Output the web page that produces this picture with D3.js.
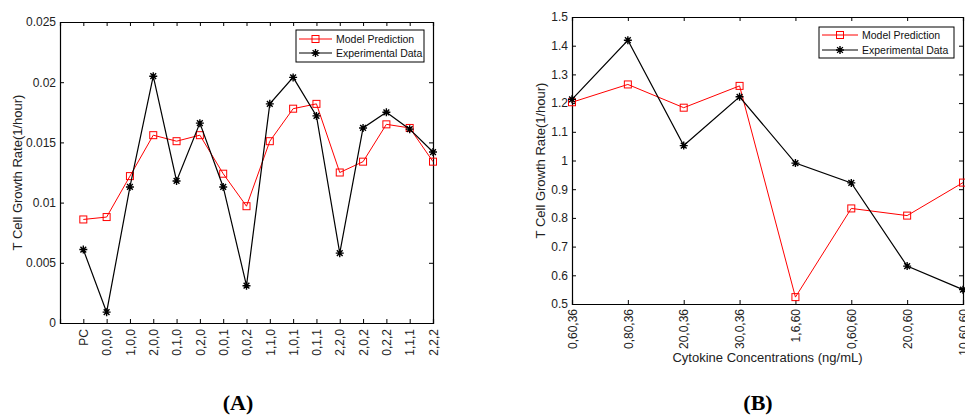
<!DOCTYPE html>
<html>
<head>
<meta charset="utf-8">
<script src="https://cdn.jsdelivr.net/npm/d3@7"></script>
<style>
  body { margin: 0; background: #fff; }
  svg { font-family: "Liberation Sans", Arial, sans-serif; }
  .domain { stroke: #000; stroke-width: 1.2; }
  .tick line { stroke: #000; stroke-width: 1; }
</style>
</head>
<body>
<svg id="chart" width="965" height="415"></svg>
<script>
// panel A
const catsA = ["PC", "0,0,0", "1,0,0", "2,0,0", "0,1,0", "0,2,0", "0,0,1", "0,0,2",
  "1,1,0", "1,0,1", "0,1,1", "2,2,0", "2,0,2", "0,2,2", "1,1,1", "2,2,2"];
const modelA = [0.0086, 0.0088, 0.0122, 0.0156, 0.0151, 0.0156, 0.0124, 0.0097,
  0.0151, 0.0178, 0.0182, 0.0125, 0.0134, 0.0165, 0.0162, 0.0134];
const exptA = [0.0061, 0.0009, 0.0113, 0.0205, 0.0118, 0.0166, 0.0113, 0.0031,
  0.0182, 0.0204, 0.0172, 0.0058, 0.0162, 0.0175, 0.0161, 0.0142];
const yTicksA = [0, 0.005, 0.01, 0.015, 0.02, 0.025];
const yLabelsA = ["0", "0.005", "0.01", "0.015", "0.02", "0.025"];

// panel B
const catsB = ["0,60,36", "0,80,36", "20,0,36", "30,0,36", "1,6,60", "0,60,60", "20,0,60", "10,60,60"];
const modelB = [1.203, 1.265, 1.184, 1.260, 0.524, 0.833, 0.808, 0.923];
const exptB = [1.213, 1.419, 1.052, 1.222, 0.991, 0.922, 0.632, 0.550];
const yTicksB = [0.5, 0.6, 0.7, 0.8, 0.9, 1, 1.1, 1.2, 1.3, 1.4, 1.5];
const yLabelsB = ["0.5", "0.6", "0.7", "0.8", "0.9", "1", "1.1", "1.2", "1.3", "1.4", "1.5"];

const seriesNames = ["Model Prediction", "Experimental Data"];
const colors = ["#ff0000", "#000000"];

const svg = d3.select("#chart");

function starPath(r) {
  const d = r * 0.72;
  return `M${-r},0L${r},0M0,${-r}L0,${r}M${-d},${-d}L${d},${d}M${-d},${d}L${d},${-d}`;
}

function drawMarker(g, kind, x, y, color) {
  if (kind === 0) {
    g.append("rect").attr("x", x - 3.5).attr("y", y - 3.5)
      .attr("width", 7).attr("height", 7)
      .attr("fill", "none").attr("stroke", color).attr("stroke-width", 1);
  } else {
    g.append("path").attr("transform", `translate(${x},${y})`)
      .attr("d", starPath(4)).attr("stroke", color).attr("stroke-width", 1.4).attr("fill", "none");
  }
}

function panel(opt) {
  const g = svg.append("g");
  const x = d3.scaleLinear().domain(opt.xDomain).range([opt.left, opt.right]);
  const y = d3.scaleLinear().domain(opt.yDomain).range([opt.bottom, opt.top]);
  const xIdx = opt.cats.map((c, i) => i + opt.offset);

  // axes
  const xa = g.append("g").attr("transform", `translate(0,${opt.bottom})`)
    .call(d3.axisBottom(x).tickValues(xIdx).tickSize(-4)
      .tickFormat((d, i) => opt.cats[i]));
  xa.selectAll("text")
    .attr("transform", "rotate(-90)")
    .attr("x", -opt.labelGap).attr("y", 0).attr("dy", "0.35em")
    .style("text-anchor", "end").style("font-size", "12px").attr("fill", "#222");

  g.append("g").attr("transform", `translate(0,${opt.top})`)
    .call(d3.axisTop(x).tickValues(xIdx).tickSize(-4).tickFormat(""));

  g.append("g").attr("transform", `translate(${opt.left},0)`)
    .call(d3.axisLeft(y).tickValues(opt.yTicks).tickSize(-4).tickPadding(4)
      .tickFormat((d, i) => opt.yLabels[i]))
    .selectAll("text").style("font-size", "12px").attr("fill", "#222");

  g.append("g").attr("transform", `translate(${opt.right},0)`)
    .call(d3.axisRight(y).tickValues(opt.yTicks).tickSize(-4).tickFormat(""));

  g.selectAll(".domain").attr("stroke", "#000");

  // lines + markers
  const line = d3.line().x((d, i) => x(xIdx[i])).y(d => y(d));
  [opt.model, opt.expt].forEach((s, k) => {
    g.append("path").datum(s).attr("d", line)
      .attr("fill", "none").attr("stroke", colors[k]).attr("stroke-width", k ? 1.2 : 1);
    s.forEach((v, i) => drawMarker(g, k, x(xIdx[i]), y(v), colors[k]));
  });

  // y label
  g.append("text")
    .attr("transform", `translate(${opt.yLabelX},${(opt.top + opt.bottom) / 2}) rotate(-90)`)
    .attr("text-anchor", "middle").attr("dy", "0.35em")
    .style("font-size", "13px").attr("fill", "#222")
    .text("T Cell Growth Rate(1/hour)");

  if (opt.xLabel) {
    g.append("text").attr("x", (opt.left + opt.right) / 2).attr("y", opt.xLabelY)
      .attr("text-anchor", "middle").style("font-size", "13px").attr("fill", "#222")
      .text(opt.xLabel);
  }

  // legend
  const L = opt.legend;
  g.append("rect").attr("x", L.x).attr("y", L.y).attr("width", L.w).attr("height", L.h)
    .attr("fill", "#fff").attr("stroke", "#000").attr("stroke-width", 1);
  seriesNames.forEach((name, k) => {
    const ry = L.y + L.rows[k];
    g.append("line").attr("x1", L.x + 3).attr("x2", L.x + 3 + L.lineW)
      .attr("y1", ry).attr("y2", ry).attr("stroke", colors[k]).attr("stroke-width", 1);
    drawMarker(g, k, L.x + 3 + L.lineW / 2, ry, colors[k]);
    g.append("text").attr("x", L.x + L.lineW + 7).attr("y", ry).attr("dy", "0.35em")
      .style("font-size", "10.5px").attr("fill", "#111").text(name);
  });

  // panel letter
  g.append("text").attr("x", opt.letterX).attr("y", 410)
    .attr("text-anchor", "middle")
    .style("font-family", "'Liberation Serif', 'Times New Roman', serif")
    .style("font-weight", "bold").style("font-size", "22px")
    .text(opt.letter);
}

panel({
  cats: catsA, model: modelA, expt: exptA, offset: 1,
  xDomain: [0, 16], yDomain: [0, 0.025],
  yTicks: yTicksA, yLabels: yLabelsA,
  left: 60, right: 433, top: 22, bottom: 323,
  labelGap: 6, yLabelX: 17,
  legend: { x: 296, y: 30, w: 128, h: 32, rows: [9, 23], lineW: 33 },
  letter: "(A)", letterX: 238
});

panel({
  cats: catsB, model: modelB, expt: exptB, offset: 0,
  xDomain: [0, 7], yDomain: [0.5, 1.5],
  yTicks: yTicksB, yLabels: yLabelsB,
  left: 572, right: 963, top: 17, bottom: 304,
  labelGap: 5, yLabelX: 540,
  xLabel: "Cytokine Concentrations (ng/mL)", xLabelY: 362,
  legend: { x: 819, y: 27, w: 135, h: 31, rows: [8, 23], lineW: 36 },
  letter: "(B)", letterX: 758
});
</script>
</body>
</html>
